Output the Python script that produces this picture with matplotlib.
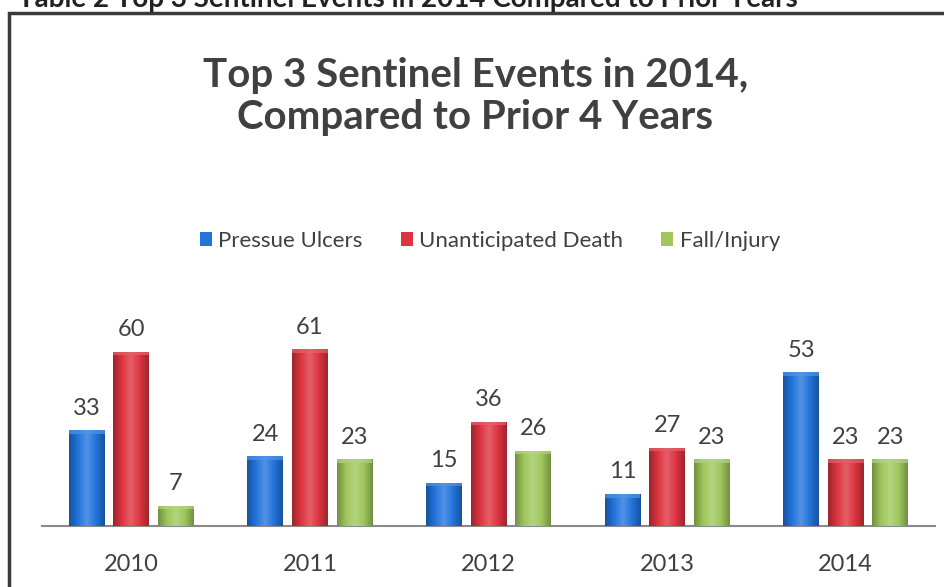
import numpy as np
import matplotlib.pyplot as plt
from matplotlib.patches import Rectangle
from matplotlib.colors import LinearSegmentedColormap, to_rgb

plt.rcParams['font.family'] = ['Lato', 'DejaVu Sans']

years = ['2010', '2011', '2012', '2013', '2014']
series = ['Pressue Ulcers', 'Unanticipated Death', 'Fall/Injury']
pressure_ulcers = [33, 24, 15, 11, 53]
unanticipated_death = [60, 61, 36, 27, 23]
fall_injury = [7, 23, 26, 23, 23]
values = [pressure_ulcers, unanticipated_death, fall_injury]
colors = ['#2274dc', '#dc3440', '#9fc75c']

W, H = 945, 587
fig = plt.figure(figsize=(W / 100, H / 100), dpi=100)
fig.patch.set_facecolor('white')


def fx(px):
    return px / W


def fy(py):
    return 1 - py / H


# caption of the table, running off the top of the page
fig.text(fx(18), fy(7), 'Table 2 Top 3 Sentinel Events in 2014 Compared to Prior Years',
         fontsize=20, fontweight='bold', color='#222222', ha='left', va='baseline')

# chart frame
fig.patches.append(Rectangle((fx(9), fy(H + 20)), fx(W + 20), fy(13) - fy(H + 20),
                             transform=fig.transFigure, fill=False,
                             edgecolor='#3a3a3a', linewidth=2.5))

fig.text(0.503, fy(75), 'Top 3 Sentinel Events in 2014,', fontsize=29, fontweight='bold',
         color='#404040', ha='center', va='center')
fig.text(0.503, fy(118), 'Compared to Prior 4 Years', fontsize=29, fontweight='bold',
         color='#404040', ha='center', va='center')

ax = fig.add_axes([fx(42), fy(526), fx(935) - fx(42), fy(323) - fy(526)])
ax.set_facecolor('none')
for s in ['top', 'right', 'left']:
    ax.spines[s].set_visible(False)
ax.spines['bottom'].set_color('#8a8a8a')
ax.spines['bottom'].set_linewidth(1.5)
ax.set_yticks([])
ax.set_xticks(range(len(years)))
ax.set_xticklabels(years, fontsize=17, color='#404040')
ax.tick_params(axis='x', length=0, pad=20)

x = np.arange(len(years))
width = 0.2
offsets = [-0.25, 0, 0.25]

handles = []
for vals, col, off, name in zip(values, colors, offsets, series):
    bars = ax.bar(x + off, vals, width, color=col, label=name, zorder=2)
    handles.append(bars)
    base = np.array(to_rgb(col))
    dark = base * 0.72
    light = np.clip(base + (1 - base) * 0.22, 0, 1)
    # horizontal shading for the cylinder look
    cmap = LinearSegmentedColormap.from_list('c', [dark, base, light, base, dark])
    grad = np.linspace(0, 1, 64).reshape(1, -1)
    for b in bars:
        bx, bw, bh = b.get_x(), b.get_width(), b.get_height()
        im = ax.imshow(grad, cmap=cmap, extent=[bx, bx + bw, 0, bh], aspect='auto',
                       zorder=3, interpolation='bicubic')
        im.set_clip_path(b)
        ax.add_patch(Rectangle((bx, bh - 1.2), bw, 1.2, facecolor=light,
                               edgecolor='none', alpha=0.7, zorder=4))
        ax.text(bx + bw / 2, bh + 4, str(int(bh)), ha='center', va='bottom',
                fontsize=17, color='#404040', zorder=5)

ax.set_xlim(-0.5, 4.5)
ax.set_ylim(0, 70)

fig.legend(handles=handles, labels=series, loc='center', bbox_to_anchor=(fx(490), fy(241)),
           ncol=3, frameon=False, fontsize=16, labelcolor='#404040',
           handlelength=0.55, handleheight=0.55, handletextpad=0.3, columnspacing=1.7)

fig.savefig('out.png', dpi=100)
